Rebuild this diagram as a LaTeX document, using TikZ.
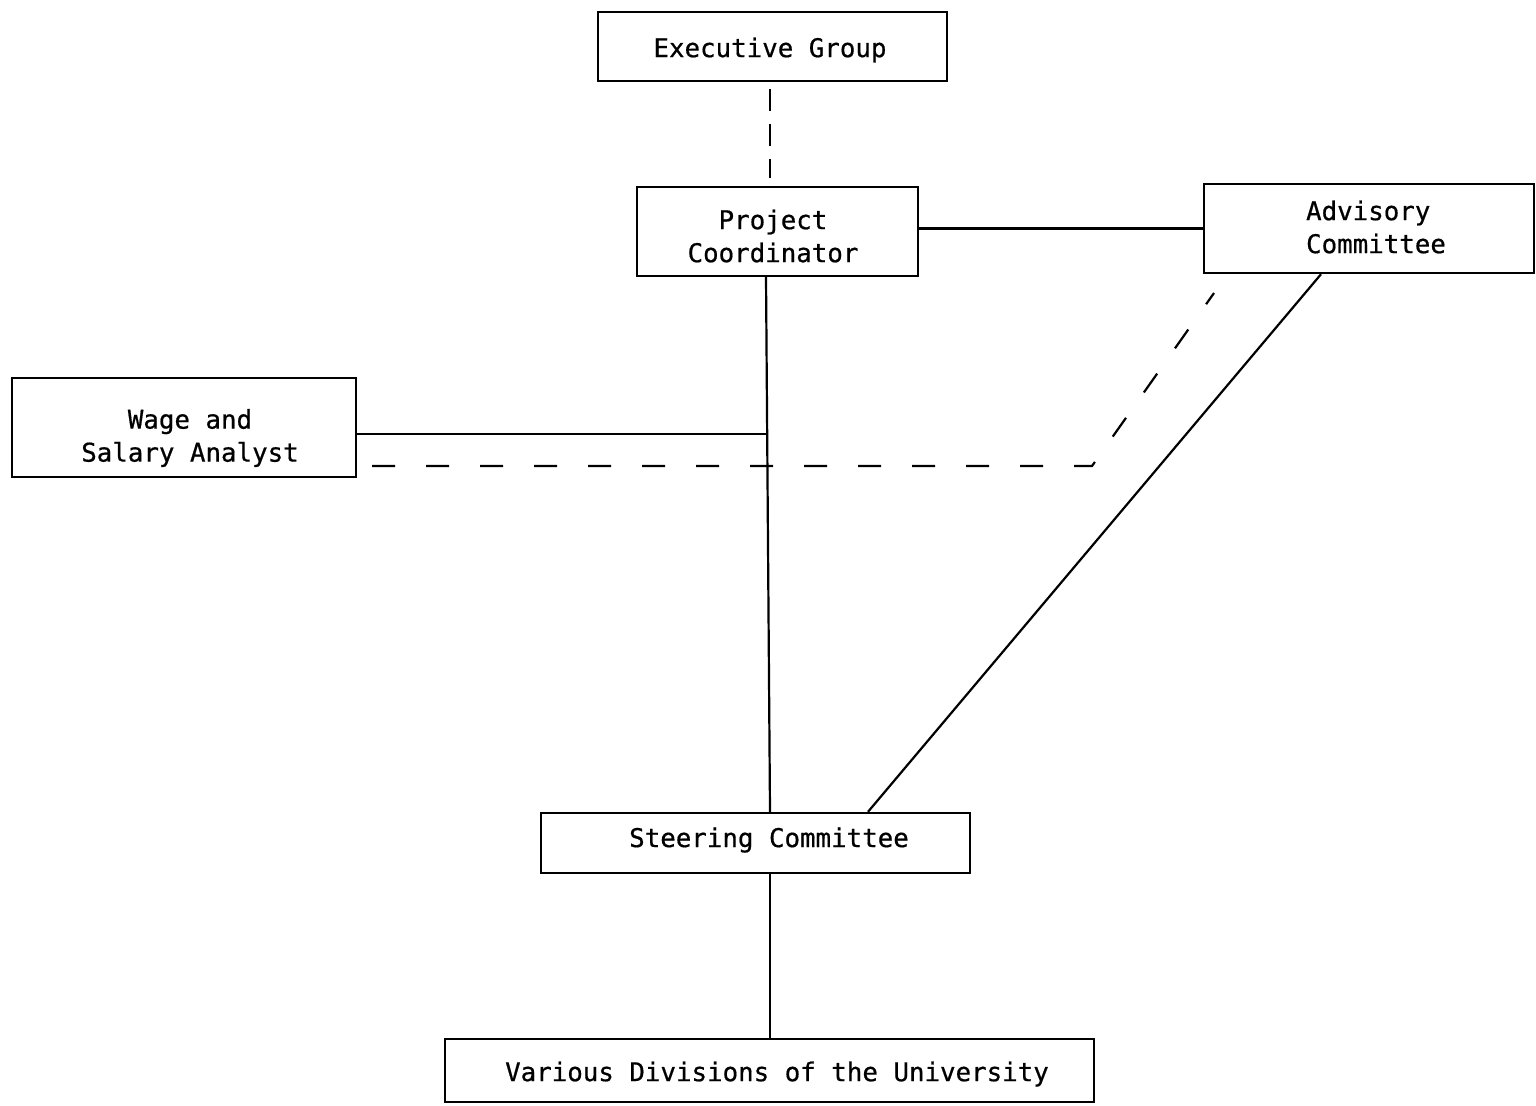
\documentclass[tikz,border=0pt]{standalone}
\usepackage{fontspec}
\newfontfamily\chartfont[FakeBold=0.6]{DejaVu Sans Mono}
\begin{document}
\begin{tikzpicture}[
  x=0.5pt, y=-0.5pt,
  box/.style={draw, line width=1.2pt, inner sep=0pt},
  lbl/.style={font=\chartfont\fontsize{12.9pt}{16.5pt}\selectfont, align=center, inner sep=0pt},
  link/.style={line width=1.1pt},
  dashlink/.style={line width=1.1pt, dash pattern=on 11.5pt off 15.5pt},
  shortdash/.style={line width=1.1pt, dash pattern=on 11pt off 6.5pt}
]
\useasboundingbox (0,0) rectangle (1536,1105);

% boxes
\node[box, minimum width=174.5pt, minimum height=34.5pt] (exec)  at (772.5,46.5)  {};
\node[box, minimum width=140.5pt, minimum height=44.5pt] (pc)    at (777.5,231.5) {};
\node[box, minimum width=165pt,   minimum height=44.5pt] (adv)   at (1369,228.5)  {};
\node[box, minimum width=172pt,   minimum height=49.5pt] (wage)  at (184,427.5)   {};
\node[box, minimum width=214.5pt, minimum height=30pt]   (steer) at (755.5,843)   {};
\node[box, minimum width=324.5pt, minimum height=31.5pt] (univ)  at (769.5,1070.5) {};

% labels
\node[lbl] (exec-t)  at (770,50)    {Executive Group};
\node[lbl] (pc-t)    at (773,236)   {Project\\Coordinator};
\node[lbl, align=left] (adv-t) at (1376,227) {Advisory\\Committee};
\node[lbl] (wage-t)  at (190,438)   {Wage and\\Salary Analyst};
\node[lbl] (steer-t) at (769,840)   {Steering Committee};
\node[lbl] (univ-t)  at (777,1074)  {Various Divisions of the University};

% connectors
\draw[shortdash] ([xshift=-1.25pt,yshift=-3.5pt]exec.south) -- ([xshift=-3.75pt,yshift=4pt]pc.north);
\draw[link] (adv.west -| pc.east) -- (adv.west);
\draw[link] ([xshift=-5.75pt]pc.south) -- ([xshift=7.25pt]steer.north);
\coordinate (j) at (767,434);
\draw[link] (wage.east |- j) -- (j);
\coordinate (d0) at (372,466);
\coordinate (d1) at (1092,466);
\coordinate (d2) at (1214,293);
\draw[dashlink] (d0) -- (d1) -- (d2);
\draw[link] ([xshift=-24pt]adv.south) -- ([xshift=56.25pt]steer.north);
\draw[link] ([xshift=7.25pt]steer.south) -- ([xshift=0.25pt]univ.north);
\end{tikzpicture}
\end{document}
